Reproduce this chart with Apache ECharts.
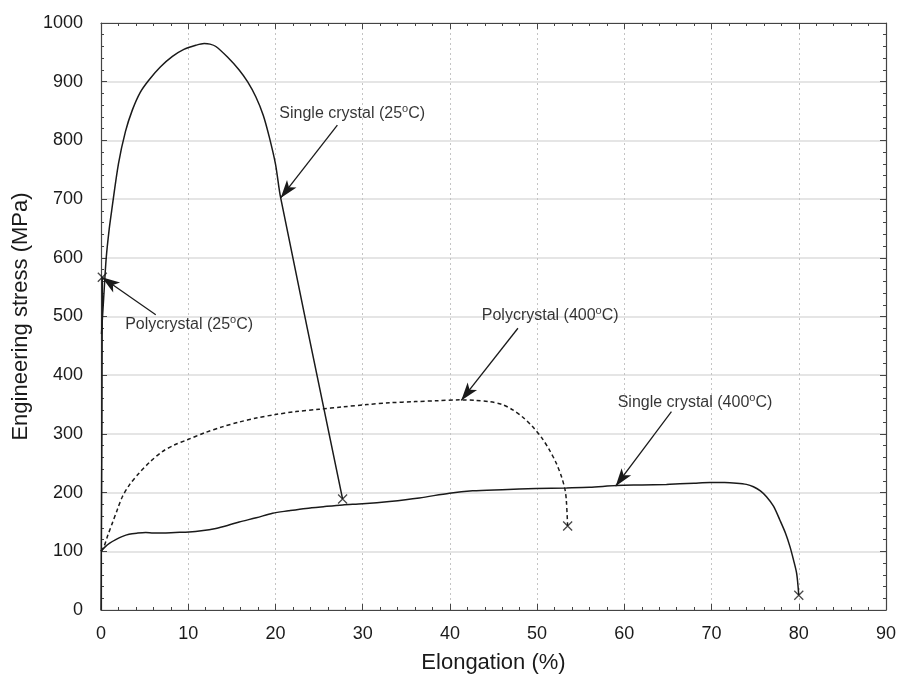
<!DOCTYPE html>
<html><head><meta charset="utf-8">
<script src="https://cdn.jsdelivr.net/npm/echarts@6/dist/echarts.min.js"></script>
<style>html,body{margin:0;padding:0;background:#fff}#c{width:900px;height:677px}</style>
</head><body><div id="c"></div>
<script>
// ---- data (elongation %, engineering stress MPa) ----
var singleCrystal25 = [[0.05,470],[0.3,530],[0.6,600],[0.95,650],[1.23,681],[2.0,760],[2.8,815],[3.6,852],[4.5,882],[5.5,903],[6.8,925],[8.19,943],[9.5,955],[10.87,962],[11.83,965],[12.5,964],[13.17,960],[14.5,942],[15.84,920],[16.8,900],[17.76,874],[18.6,843],[19.29,806],[20.0,760],[20.6,702],[27.7,189]];
var singleCrystal400 = [[0,100],[0.5,108],[1.0,114],[1.69,120],[2.4,125],[3.21,129],[4.2,131],[5.13,132],[6.0,131],[7.04,131],[8.5,132],[10.1,133],[11.5,135],[13.17,139],[14.5,144],[15.84,150],[17.8,157],[19.67,165],[21.5,169],[23.5,173],[25.5,176],[27.7,179],[30,181],[33.07,185],[36.5,191],[39.95,199],[42.6,203],[46,205],[49.9,207],[53.35,208],[56,209],[59.1,212],[62,213],[64.83,214],[66.36,215],[68,216],[69.8,217],[71.5,217],[72.87,216],[74,214],[74.8,210],[75.6,203],[76.3,193],[77.1,177],[77.84,153],[78.5,130],[78.99,108],[79.4,85],[79.76,62],[80.0,25]];
var polycrystal400 = [[0,100],[0.34,108],[0.8,128],[1.3,148],[1.9,172],[2.45,193],[3.3,214],[4.36,233],[5.6,252],[7.04,270],[8.4,281],[9.9,290],[11.9,302],[13.9,312],[15.8,320],[17.8,327],[20,333],[22.35,338],[25,342],[27.7,346],[30.5,350],[33.07,353],[36,355],[38.5,356.5],[41.1,358],[43,357],[44.5,355],[46,350],[47.2,341],[48.4,328],[49.5,312],[50.5,294],[51.4,273],[52.2,250],[52.8,227],[53.2,205],[53.35,187],[53.5,143]];
var polycrystal25 = [[0,0],[0.1,300],[0.15,567]];
var fracturePoints = [[27.7,189],[53.5,143],[80.0,25],[0.15,567]];
// annotations: text position, arrow start, arrow tip
var annotTexts = ['Single crystal (25{s|o}C)','Polycrystal (25{s|o}C)','Polycrystal (400{s|o}C)','Single crystal (400{s|o}C)'];
var annotTextPos = [[28.8,846],[10.1,486],[51.5,501],[68.1,353]];
var annotArrowFrom = [[27.1,826],[6.28,503],[47.8,480],[65.4,338]];
var annotArrowTo = [[20.6,702],[0.1,567],[41.3,357],[59.0,211]];

var FONT = 'Liberation Sans';
var ink = '#1a1a1a';
var axc = '#444';
var chart = echarts.init(document.getElementById('c'), null, {renderer:'canvas'});
var arrowData = annotArrowFrom.map(function(p,i){return [{coord:p},{coord:annotArrowTo[i]}];});
var labelData = annotTextPos.map(function(p,i){return {value:p, label:{formatter:annotTexts[i]}};});
function mkAxis(extra){
  var a = {
    type:'value', min:0,
    axisLine:{show:true, onZero:false, lineStyle:{color:axc, width:1.2}},
    axisTick:{show:true, inside:true, length:6, lineStyle:{color:axc, width:1}},
    minorTick:{show:true, splitNumber:5, length:3, lineStyle:{color:axc, width:1}}
  };
  for (var k in extra) a[k] = extra[k];
  return a;
}
chart.setOption({
  animation:false,
  backgroundColor:'#fff',
  grid:{left:101, right:14, top:23, bottom:67, containLabel:false, outerBoundsMode:'none'},
  xAxis:[
    mkAxis({max:90, interval:10, position:'bottom',
      name:'Elongation (%)', nameLocation:'middle', nameGap:42,
      nameTextStyle:{fontFamily:FONT, fontSize:22, color:ink},
      axisLabel:{fontFamily:FONT, fontSize:18, color:ink, margin:15},
      splitLine:{show:true, lineStyle:{color:'#c4c4c4', type:[2,3], width:1}}}),
    mkAxis({max:90, interval:10, position:'top',
      axisLabel:{show:false}, splitLine:{show:false}})
  ],
  yAxis:[
    mkAxis({max:1000, interval:100, position:'left',
      name:'Engineering stress (MPa)', nameLocation:'middle', nameGap:56,
      nameTextStyle:{fontFamily:FONT, fontSize:22, color:ink},
      axisLabel:{fontFamily:FONT, fontSize:18, color:ink, margin:18, formatter:function(v){return String(v);}},
      splitLine:{show:true, lineStyle:{color:'#dcdcdc', width:1.5}}}),
    mkAxis({max:1000, interval:100, position:'right',
      axisLabel:{show:false}, splitLine:{show:false}})
  ],
  series:[
    {type:'line', data:singleCrystal25, showSymbol:false, smooth:0.3, lineStyle:{color:ink, width:1.5}},
    {type:'line', data:singleCrystal400, showSymbol:false, smooth:0.3, lineStyle:{color:ink, width:1.5}},
    {type:'line', data:polycrystal400, showSymbol:false, smooth:0.3, lineStyle:{color:ink, width:1.5, type:[4,3]}},
    {type:'line', data:polycrystal25, showSymbol:false, lineStyle:{color:ink, width:1.5}},
    {type:'scatter', data:fracturePoints, symbol:'path://M0,0L10,10M10,0L0,10', symbolSize:9,
      itemStyle:{color:'none', borderColor:ink, borderWidth:1.3}, z:5},
    {type:'scatter', data:labelData, symbolSize:0, silent:true,
      label:{show:true, position:'inside', fontFamily:FONT, fontSize:16, color:'#000',
        rich:{s:{fontFamily:FONT, fontSize:11, color:'#000', verticalAlign:'top', padding:[0,0,9,0]}}},
      markLine:{silent:true, symbol:['none','arrow'], symbolSize:[9,18], label:{show:false},
        lineStyle:{color:ink, width:1.3, type:'solid'}, data:arrowData}}
  ]
});
</script></body></html>
